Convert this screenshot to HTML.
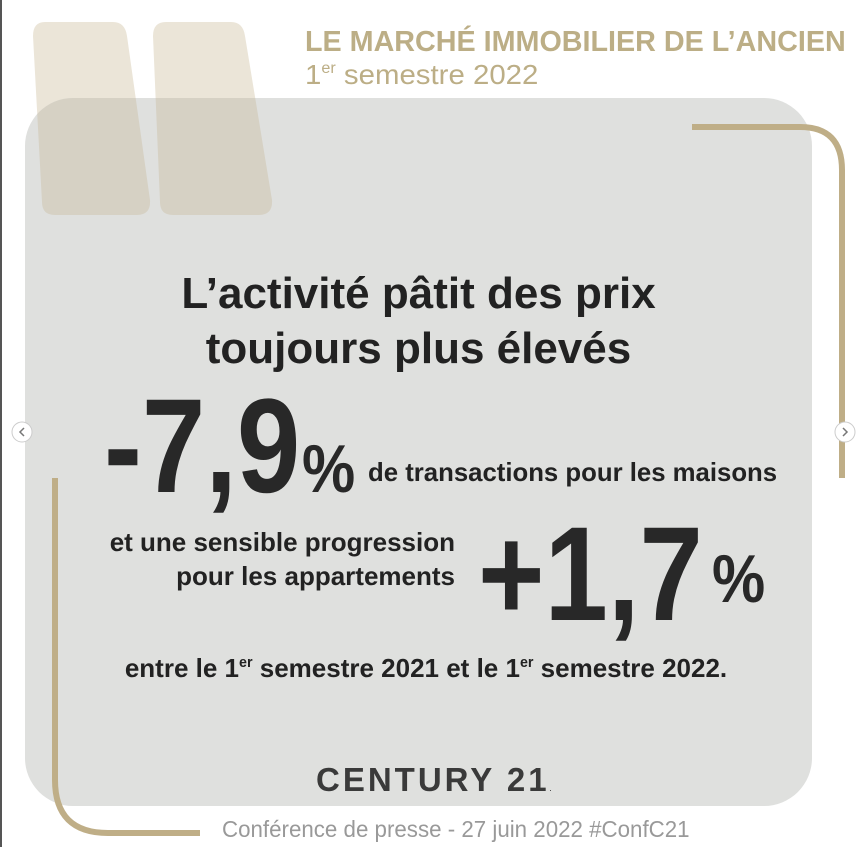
<!DOCTYPE html>
<html><head><meta charset="utf-8"><style>
body{margin:0;width:867px;height:847px;background:#fff;position:relative;overflow:hidden;font-family:"Liberation Sans",Arial,sans-serif;}
.a{position:absolute;white-space:nowrap;transform-origin:0 0;line-height:1;}
.b{font-weight:bold;color:#222;}
sup{font-size:55%;vertical-align:0;position:relative;top:-0.7em;}
</style></head><body>
<div style="position:absolute;left:0;top:0;width:2px;height:847px;background:#555"></div>
<svg width="867" height="847" style="position:absolute;left:0;top:0">
<path d="M45,22 L113,22 Q125,22 127,36 L150,200 Q151,215 137,215 L55,215 Q42,215 42,202 L33,36 Q33,22 45,22Z" fill="#ebe5d8"/>
<path d="M166,22 L231,22 Q243,22 245,36 L272,200 Q273,215 259,215 L173,215 Q160,215 160,202 L153,36 Q153,22 166,22Z" fill="#ebe5d8"/>
<rect x="25" y="98" width="787" height="708" rx="48" fill="#dfe0de"/>
<clipPath id="c"><rect x="25" y="98" width="787" height="708" rx="48"/></clipPath>
<g clip-path="url(#c)" fill="#d6d1c4">
<path d="M45,22 L113,22 Q125,22 127,36 L150,200 Q151,215 137,215 L55,215 Q42,215 42,202 L33,36 Q33,22 45,22Z"/>
<path d="M166,22 L231,22 Q243,22 245,36 L272,200 Q273,215 259,215 L173,215 Q160,215 160,202 L153,36 Q153,22 166,22Z"/>
</g>
<path d="M692,127 L800,127 Q842,127 842,170 L842,478" fill="none" stroke="#bfae87" stroke-width="6"/>
<path d="M55,478 L55,780 Q55,833 108,833 L200,833" fill="none" stroke="#bfae87" stroke-width="6"/>
<circle cx="22" cy="432" r="10" fill="#fff" stroke="#ccc"/>
<path d="M24,428 L20,432 L24,436" fill="none" stroke="#777" stroke-width="1.5"/>
<circle cx="845" cy="432" r="10" fill="#fff" stroke="#ccc"/>
<path d="M843,428 L847,432 L843,436" fill="none" stroke="#777" stroke-width="1.5"/>
</svg>
<div class="a" style="left:305px;top:28px;font-size:29px;font-weight:bold;color:#bcae86;transform:scaleX(0.99)">LE MARCHÉ IMMOBILIER DE L’ANCIEN</div>
<div class="a" style="left:305px;top:61px;font-size:28px;color:#bcae86;transform:scaleX(1.05)">1<sup>er</sup> semestre 2022</div>
<div class="a b" style="left:0;width:837px;text-align:center;top:272px;font-size:44px;">L’activité pâtit des prix</div>
<div class="a b" style="left:0;width:837px;text-align:center;top:327px;font-size:44px;">toujours plus élevés</div>
<div class="a b" style="left:104px;top:380px;font-size:134px;color:#282828;transform:scaleX(0.85)">-7,9</div>
<div class="a b" style="left:302px;top:435px;font-size:68px;color:#282828;transform:scaleX(0.88)">%</div>
<div class="a b" style="left:368px;top:459px;font-size:26px;transform:scaleX(0.99)">de transactions pour les maisons</div>
<div class="a b" style="left:60px;width:395px;text-align:right;top:529px;font-size:26px;">et une sensible progression</div>
<div class="a b" style="left:60px;width:395px;text-align:right;top:563px;font-size:26px;">pour les appartements</div>
<div class="a b" style="left:478px;top:508px;font-size:134px;color:#282828;transform:scaleX(0.85)">+1,7</div>
<div class="a b" style="left:712px;top:545px;font-size:68px;color:#282828;transform:scaleX(0.88)">%</div>
<div class="a b" style="left:0;width:852px;text-align:center;top:655px;font-size:26px;">entre le 1<sup>er</sup> semestre 2021 et le 1<sup>er</sup> semestre 2022.</div>
<div class="a" style="left:316px;top:763px;font-size:33px;font-weight:bold;color:#3a3a3a;letter-spacing:3px;">CENTURY 21<span style="font-size:6px">.</span></div>
<div class="a" style="left:222px;top:818px;font-size:23px;color:#999;transform:scaleX(0.97)">Conférence de presse - 27 juin 2022 #ConfC21</div>
</body></html>
